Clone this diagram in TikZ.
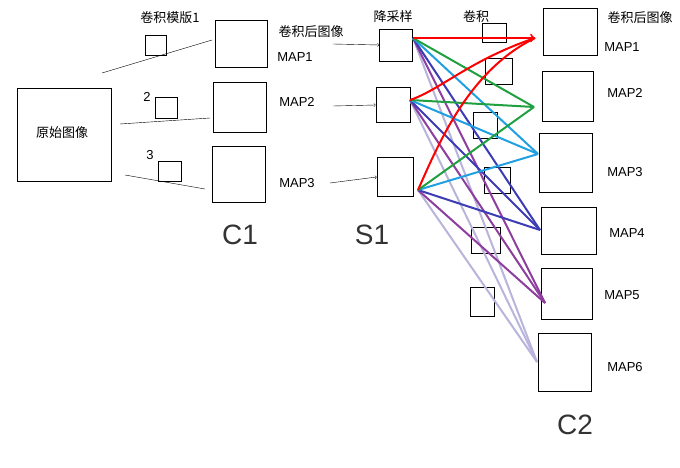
\documentclass[tikz,border=0pt]{standalone}
\usepackage{fontspec}
\setmainfont{Liberation Sans}
\newfontfamily\cjk{Noto Sans CJK SC}
\definecolor{lav}{HTML}{B8B4DC}
\definecolor{purp}{HTML}{8E3E9E}
\definecolor{dblue}{HTML}{3C3CB4}
\definecolor{cyn}{HTML}{20A0E0}
\definecolor{grn}{HTML}{20A040}
\begin{document}
\begin{tikzpicture}[x=1pt,y=-1pt,
  bx/.style={draw,thick},
  lbl/.style={font=\fontsize{13}{14}\selectfont,inner sep=0},
  zh/.style={font=\cjk\fontsize{13}{14}\selectfont,inner sep=0},
  hand/.style={font=\fontsize{28}{30}\selectfont,inner sep=0,text=black!80},
  arr/.style={->,thin},
  cl/.style={line width=2pt}]
\useasboundingbox (0,0) rectangle (680,468);
% left
\draw[bx] (17,88) rectangle (111,181); \node[zh] (orig) at (62,133) {原始图像};
\draw[bx] (145,35) rectangle (166,55) coordinate (t1);
\draw[bx] (155,97) rectangle (177,118) coordinate (t2);
\draw[bx] (158,161) rectangle (181,181) coordinate (t3);
\draw (102,73) -- (212,40); \draw (120,124) -- (210,118); \draw (125,175) -- (205,189);
\node[zh] at (170,18) {卷积模版1};
\node[lbl] at (147,97) {2}; \node[lbl] at (150,155) {3};
\draw[bx] (215,20) rectangle (267,67);
\draw[bx] (213,82) rectangle (266,132);
\draw[bx] (212,146) rectangle (265,202);
\node[zh] at (311,32) {卷积后图像};
\node[lbl] at (295,57) {MAP1}; \node[lbl] at (297,102) {MAP2}; \node[lbl] at (297,183) {MAP3};
% S1
\node[bx,minimum width=33pt,minimum height=32pt,inner sep=0] (s1) at (396,45) {};
\node[bx,minimum width=34pt,minimum height=35pt,inner sep=0] (s2) at (393,105) {};
\node[bx,minimum width=36pt,minimum height=39pt,inner sep=0] (s3) at (395,177) {};
\coordinate (f1) at (333,44); \coordinate (f2) at (333,106); \coordinate (f3) at (330,183);
\draw[arr] (f1) -- (s1.west);
\draw[arr] (f2) -- (s2.west);
\draw[arr] (f3) -- (s3.west);
\node[zh] at (393,17) {降采样}; \node[zh] at (476,17) {卷积};
% small conv boxes
\draw (482,23) rectangle (506,42);
\draw (485,58) rectangle (512,84);
\draw (473,112) rectangle (497,138);
\draw (484,167) rectangle (510,193);
\draw (471,227) rectangle (500,253);
\draw (470,287) rectangle (494,316);
% C2
\node[bx,minimum width=54pt,minimum height=47pt,inner sep=0] (m1) at (570,32) {};
\node[bx,minimum width=51pt,minimum height=50pt,inner sep=0] (m2) at (568,96) {};
\node[bx,minimum width=53pt,minimum height=59pt,inner sep=0] (m3) at (566,163) {};
\node[bx,minimum width=55pt,minimum height=47pt,inner sep=0] (m4) at (569,231) {};
\node[bx,minimum width=51pt,minimum height=51pt,inner sep=0] (m5) at (567,294) {};
\node[bx,minimum width=53pt,minimum height=58pt,inner sep=0] (m6) at (565,362) {};
\node[zh] at (640,18) {卷积后图像};
\node[lbl] at (622,47) {MAP1}; \node[lbl] at (625,93) {MAP2}; \node[lbl] at (625,172) {MAP3};
\node[lbl] at (627,233) {MAP4}; \node[lbl] at (622,295) {MAP5}; \node[lbl] at (625,367) {MAP6};
\coordinate (e1) at (535,38); \coordinate (e2) at (534,107); \coordinate (e3) at (538,154);
\coordinate (e4) at (540,230); \coordinate (e5) at (545,303); \coordinate (e6) at (537,362);
\coordinate (a1) at (413,38); \coordinate (a2) at (410,100); \coordinate (a3) at (418,190);
% connections
\foreach \e/\c in {e6/lav,e5/purp,e4/dblue,e3/cyn,e2/grn}{
  \draw[cl,\c] (a1) -- (\e); \draw[cl,\c] (a2) -- (\e); \draw[cl,\c] (a3) -- (\e);}
\draw[cl,red,->] (a1) -- (e1);
\draw[cl,red] (a2) .. controls (440,90) and (470,60) .. (e1);
\draw[cl,red] (a3) .. controls (440,140) and (470,70) .. (e1);
% handwritten labels
\node[hand] at (240,235) {C1}; \node[hand] at (372,235) {S1}; \node[hand] at (575,425) {C2};
\end{tikzpicture}
\end{document}
